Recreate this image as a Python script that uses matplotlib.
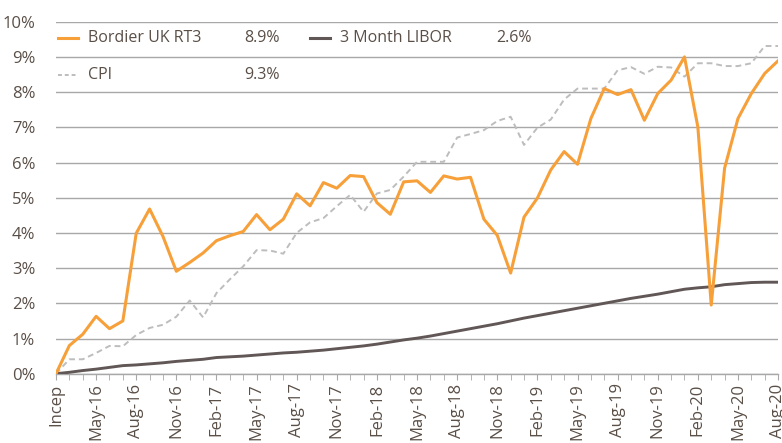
import matplotlib
matplotlib.use("Agg")
import matplotlib.pyplot as plt
import numpy as np

plt.rcParams["font.family"] = ["Open Sans", "DejaVu Sans"]

# ---------------------------------------------------------------------------
# Datos (mensuales, Feb-16 = Incep .. Aug-20), en %
# ---------------------------------------------------------------------------
tick_labels = ["Incep", "May-16", "Aug-16", "Nov-16", "Feb-17", "May-17",
               "Aug-17", "Nov-17", "Feb-18", "May-18", "Aug-18", "Nov-18",
               "Feb-19", "May-19", "Aug-19", "Nov-19", "Feb-20", "May-20",
               "Aug-20"]

bordier = [0.00, 0.80, 1.12, 1.63, 1.28, 1.50, 3.99, 4.68, 3.90, 2.91,
           3.16, 3.43, 3.78, 3.92, 4.04, 4.52, 4.09, 4.39, 5.11, 4.77,
           5.43, 5.27, 5.63, 5.60, 4.86, 4.53, 5.45, 5.48, 5.15, 5.62,
           5.53, 5.58, 4.39, 3.93, 2.86, 4.45, 4.99, 5.79, 6.31, 5.95,
           7.25, 8.10, 7.93, 8.07, 7.20, 7.96, 8.34, 9.00, 7.01, 1.95,
           5.84, 7.25, 7.96, 8.53, 8.89]

libor = [0.00, 0.04, 0.09, 0.13, 0.18, 0.23, 0.25, 0.28, 0.31, 0.35,
         0.38, 0.41, 0.46, 0.48, 0.50, 0.53, 0.56, 0.59, 0.61, 0.64,
         0.67, 0.71, 0.75, 0.79, 0.84, 0.90, 0.96, 1.01, 1.07, 1.14,
         1.21, 1.28, 1.35, 1.42, 1.50, 1.58, 1.65, 1.72, 1.79, 1.86,
         1.93, 2.00, 2.07, 2.14, 2.20, 2.26, 2.33, 2.40, 2.44, 2.47,
         2.53, 2.56, 2.59, 2.60, 2.60]

cpi = [0.00, 0.41, 0.41, 0.59, 0.79, 0.78, 1.10, 1.30, 1.39, 1.62,
       2.08, 1.60, 2.29, 2.68, 3.05, 3.51, 3.50, 3.41, 4.00, 4.30,
       4.42, 4.76, 5.08, 4.60, 5.12, 5.22, 5.60, 6.02, 6.02, 6.02,
       6.71, 6.81, 6.92, 7.18, 7.30, 6.50, 6.99, 7.22, 7.79, 8.10,
       8.10, 8.10, 8.62, 8.71, 8.52, 8.72, 8.70, 8.44, 8.82, 8.82,
       8.74, 8.74, 8.82, 9.31, 9.31]

legend_entries = [
    ("Bordier UK RT3", "8.9%"),
    ("3 Month LIBOR", "2.6%"),
    ("CPI", "9.3%"),
]

# ---------------------------------------------------------------------------
# Estilo
# ---------------------------------------------------------------------------
ORANGE = "#F7A03A"
LIBOR_C = "#625757"
CPI_C = "#BDBDBD"
GRID_C = "#A8A8A8"
TEXT_C = "#5A4F47"

fig = plt.figure(figsize=(7.82, 4.43), dpi=100)
ax = fig.add_axes([0.0716, 0.1564, 0.9234, 0.7946])

x = np.arange(len(bordier))
ax.plot(x, cpi, color=CPI_C, linestyle=(0, (3, 2)), linewidth=1.4, zorder=3)
ax.plot(x, libor, color=LIBOR_C, linewidth=2.1, zorder=4)
ax.plot(x, bordier, color=ORANGE, linewidth=2.2, zorder=5)

ax.set_xlim(0, len(bordier) - 1)
ax.set_ylim(0, 10)

# Eje Y: porcentajes y grilla horizontal
ax.set_yticks(range(0, 11))
ax.set_yticklabels([f"{v}%" for v in range(0, 11)])
ax.yaxis.grid(True, color=GRID_C, linewidth=1.0)
ax.set_axisbelow(True)
ax.tick_params(axis="y", length=0, pad=15, labelsize=12, labelcolor=TEXT_C)

# Eje X: etiqueta cada 3 meses, marca cada mes
ax.set_xticks(range(0, len(bordier), 3))
ax.set_xticklabels(tick_labels, rotation=90)
ax.set_xticks(x, minor=True)
ax.tick_params(axis="x", which="both", length=4, color=GRID_C, direction="out",
               labelsize=12, labelcolor=TEXT_C, pad=3)

for side in ["top", "right", "left"]:
    ax.spines[side].set_visible(False)
ax.spines["bottom"].set_color(GRID_C)
ax.spines["bottom"].set_linewidth(1.0)

# Leyenda manual (nombre + último valor alineados en columnas)
styles = [
    dict(color=ORANGE, linewidth=2.2, linestyle="-"),
    dict(color=LIBOR_C, linewidth=2.2, linestyle="-"),
    dict(color=CPI_C, linewidth=1.4, linestyle=(0, (2, 1.5))),
]
col_x = [0.003, 0.352]     # inicio de cada columna (fracción de ejes)
row_y = [0.955, 0.848]
positions = [(0, 0), (1, 0), (0, 1)]
for (name, value), st, (c, r) in zip(legend_entries, styles, positions):
    x0 = col_x[c]
    y0 = row_y[r]
    ax.plot([x0, x0 + 0.027], [y0, y0], transform=ax.transAxes,
            clip_on=False, zorder=6, **st)
    ax.text(x0 + 0.041, y0, name, transform=ax.transAxes, va="center",
            ha="left", fontsize=11.5, color=TEXT_C)
    ax.text(x0 + 0.258, y0, value, transform=ax.transAxes, va="center",
            ha="left", fontsize=11.5, color=TEXT_C)

fig.savefig("out.png", dpi=100)
